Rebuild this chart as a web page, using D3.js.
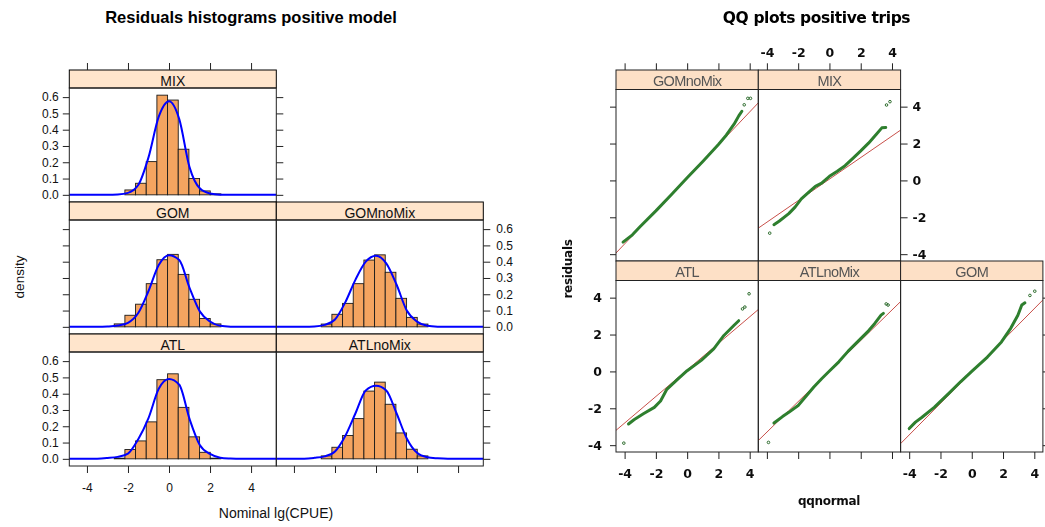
<!DOCTYPE html>
<html>
<head>
<meta charset="utf-8">
<script src="https://cdn.jsdelivr.net/npm/d3@7"></script>
<style>
  body { margin: 0; background: #fff; }
  svg { display: block; }
</style>
</head>
<body>
<svg id="chart" width="1045" height="527"></svg>
<script>
// ---- histogram data (left chart) ----
var histPanels = ["MIX", "GOM", "GOMnoMix", "ATL", "ATLnoMix"];
var binEdges = [-2.67, -2.15, -1.63, -1.11, -0.59, -0.07, 0.45, 0.97, 1.49, 2.01, 2.53];
var barsMIX      = [0,     0.030, 0.071, 0.204, 0.612, 0.582, 0.280, 0.100, 0.024, 0.006];
var barsGOM      = [0.018, 0.071, 0.139, 0.265, 0.412, 0.445, 0.322, 0.169, 0.051, 0.018];
var barsGOMnoMix = [0.017, 0.077, 0.144, 0.265, 0.410, 0.442, 0.335, 0.175, 0.058, 0.017];
var barsATL      = [0.004, 0.057, 0.110, 0.227, 0.486, 0.522, 0.316, 0.135, 0.040, 0.004];
var barsATLnoMix = [0.018, 0.071, 0.143, 0.247, 0.416, 0.471, 0.335, 0.159, 0.059, 0.018];

// density curve, read at these residual values
var densX        = [-5, -3.5, -3, -2.5, -2, -1.5, -1, -0.5, 0, 0.5, 1, 1.5, 2, 2.5, 3, 3.5, 5.3];
var densMIX      = [0, 0, 0, 0.002, 0.012, 0.06, 0.23, 0.48, 0.575, 0.465, 0.17, 0.04, 0.008, 0.001, 0, 0, 0];
var densGOM      = [0, 0, 0.002, 0.008, 0.025, 0.085, 0.22, 0.38, 0.44, 0.41, 0.24, 0.095, 0.033, 0.006, 0.001, 0, 0];
var densGOMnoMix = [0, 0, 0.002, 0.012, 0.045, 0.15, 0.29, 0.40, 0.437, 0.39, 0.26, 0.10, 0.032, 0.006, 0.001, 0, 0];
var densATL      = [0, 0.001, 0.005, 0.012, 0.032, 0.12, 0.25, 0.43, 0.49, 0.455, 0.245, 0.085, 0.03, 0.007, 0.002, 0, 0];
var densATLnoMix = [0, 0.001, 0.006, 0.015, 0.045, 0.14, 0.28, 0.42, 0.449, 0.42, 0.28, 0.125, 0.037, 0.01, 0.003, 0, 0];

var histBars = { MIX: barsMIX, GOM: barsGOM, GOMnoMix: barsGOMnoMix, ATL: barsATL, ATLnoMix: barsATLnoMix };
var histDens = { MIX: densMIX, GOM: densGOM, GOMnoMix: densGOMnoMix, ATL: densATL, ATLnoMix: densATLnoMix };
var histTicksX = [-4, -2, 0, 2, 4];
var histTicksY = [0, 0.1, 0.2, 0.3, 0.4, 0.5, 0.6];

// ---- QQ data (right chart) ----
var qqPanels = ["GOMnoMix", "MIX", "ATL", "ATLnoMix", "GOM"];
var qqX = {
    GOMnoMix: [-4.1, -3.5, -3, -2, -1, 0, 1, 2, 2.5, 3, 3.3, 3.5],
    MIX:      [-3.55, -3.2, -2.6, -2.2, -1.8, -1.3, -0.9, -0.5, 0, 0.5, 1.0, 1.6, 2.0, 2.5, 3.0, 3.35, 3.6],
    ATL:      [-3.75, -3.4, -2.8, -2.1, -1.7, -1.3, -0.6, 0, 0.9, 1.7, 2.35, 3.0, 3.3],
    ATLnoMix: [-3.55, -3.0, -2.6, -2.0, -1.5, -1.0, -0.5, 0, 0.6, 1.2, 2.0, 2.5, 2.9, 3.3, 3.45],
    GOM:      [-4.0, -3.6, -3.2, -2.4, -1.5, -0.7, 0, 1.0, 1.9, 2.5, 2.95, 3.2, 3.4]
};
var qqY = {
    GOMnoMix: [-3.35, -2.95, -2.5, -1.65, -0.76, 0.14, 1.03, 1.95, 2.45, 3.05, 3.5, 3.75],
    MIX:      [-2.4, -2.2, -1.8, -1.45, -1.0, -0.62, -0.32, -0.15, 0.22, 0.5, 0.8, 1.28, 1.6, 2.02, 2.5, 2.85, 2.87],
    ATL:      [-2.85, -2.62, -2.3, -1.95, -1.6, -0.97, -0.42, 0.04, 0.6, 1.22, 1.95, 2.5, 2.75],
    ATLnoMix: [-2.8, -2.45, -2.22, -1.85, -1.35, -0.85, -0.4, 0.02, 0.52, 1.1, 1.78, 2.2, 2.6, 3.05, 3.15],
    GOM:      [-3.1, -2.75, -2.5, -1.95, -1.22, -0.55, 0, 0.78, 1.6, 2.35, 3.05, 3.6, 3.72]
};
var qqOutliers = {
    GOMnoMix: [[3.65, 4.1], [3.88, 4.45], [4.05, 4.45]],
    MIX:      [[-3.82, -2.86], [3.65, 4.09], [3.87, 4.27]],
    ATL:      [[-4.05, -3.89], [3.54, 3.39], [3.69, 3.49], [3.96, 4.21]],
    ATLnoMix: [[-3.9, -3.85], [3.63, 3.66], [3.75, 3.6]],
    GOM:      [[3.72, 4.12], [4.03, 4.35]]
};
var qqIntercept = { GOMnoMix: 0.135, MIX: 0.07, ATL: 0.08, ATLnoMix: 0.02, GOM: -0.02 };
var qqSlope     = { GOMnoMix: 0.895, MIX: 0.584, ATL: 0.72, ATLnoMix: 0.828, GOM: 0.856 };
var qqTicks = [-4, -2, 0, 2, 4];

var svg = d3.select("#chart");
var font = "'Liberation Sans', Arial, sans-serif";
var heavy = "'DejaVu Sans', 'Liberation Sans', sans-serif";
var intLabel = function(d) { return String(d); };   // plain hyphen minus, like R

function styleAxis(g, size, weight, family) {
    g.select(".domain").remove();
    g.attr("font-family", family || font).attr("font-size", size).attr("font-weight", weight);
    g.selectAll(".tick line").attr("stroke", "#222");
    g.selectAll(".tick text").attr("fill", "#111");
}

// ================= left: residual histograms =================
var hx0 = 69.3, hcolW = 207, htop = 70, hstripH = 18, hplotH = 114;
var hx = d3.scaleLinear().domain([-4.86, 5.23]).range([0, hcolW]);
var hy = d3.scaleLinear().domain([-0.044, 0.656]).range([hplotH, 0]);
var histPos = { MIX: [0, 0], GOM: [0, 1], GOMnoMix: [1, 1], ATL: [0, 2], ATLnoMix: [1, 2] };

var left = svg.append("g");
left.append("text")
    .attr("x", 251).attr("y", 22.5)
    .attr("text-anchor", "middle")
    .attr("font-family", font).attr("font-size", 16.5).attr("font-weight", "bold")
    .attr("fill", "#000")
    .text("Residuals histograms positive model");

histPanels.forEach(function(name) {
    var col = histPos[name][0], row = histPos[name][1];
    var g = left.append("g")
        .attr("transform", "translate(" + (hx0 + col * hcolW) + "," + (htop + row * (hstripH + hplotH)) + ")");

    g.append("rect")
        .attr("width", hcolW).attr("height", hstripH)
        .attr("fill", "#ffe5cc").attr("stroke", "#000").attr("stroke-width", 1);
    g.append("text")
        .attr("x", hcolW / 2).attr("y", 15.5)
        .attr("text-anchor", "middle")
        .attr("font-family", font).attr("font-size", 14).attr("fill", "#111")
        .text(name);

    var p = g.append("g").attr("transform", "translate(0," + hstripH + ")");
    var clipId = "hclip-" + name;
    p.append("clipPath").attr("id", clipId)
        .append("rect").attr("width", hcolW).attr("height", hplotH);
    var inner = p.append("g").attr("clip-path", "url(#" + clipId + ")");

    var bars = histBars[name];
    inner.selectAll("rect.bar")
        .data(bars.map(function(h, i) { return { h: h, x0: binEdges[i], x1: binEdges[i + 1] }; })
                  .filter(function(d) { return d.h > 0; }))
        .enter().append("rect")
            .attr("class", "bar")
            .attr("x", function(d) { return hx(d.x0); })
            .attr("width", function(d) { return hx(d.x1) - hx(d.x0); })
            .attr("y", function(d) { return hy(d.h); })
            .attr("height", function(d) { return hy(0) - hy(d.h); })
            .attr("fill", "#f4a460").attr("stroke", "#1a1a1a").attr("stroke-width", 0.9);

    var line = d3.line()
        .x(function(d) { return hx(d[0]); })
        .y(function(d) { return hy(d[1]); })
        .curve(d3.curveMonotoneX);
    inner.append("path")
        .datum(densX.map(function(x, i) { return [x, histDens[name][i]]; }))
        .attr("d", line)
        .attr("fill", "none").attr("stroke", "#0000ff").attr("stroke-width", 2);

    p.append("rect")
        .attr("width", hcolW).attr("height", hplotH)
        .attr("fill", "none").attr("stroke", "#222").attr("stroke-width", 1);

    // axes, lattice style alternating
    if (row === 0) {
        p.append("g").attr("transform", "translate(0," + (-hstripH) + ")")
            .call(d3.axisTop(hx).tickValues(histTicksX).tickFormat("").tickSize(7))
            .call(styleAxis, 12, "normal");
    }
    if (row === 2) {
        p.append("g").attr("transform", "translate(0," + hplotH + ")")
            .call(d3.axisBottom(hx).tickValues(histTicksX).tickSize(7).tickPadding(10)
                  .tickFormat(col === 0 ? intLabel : ""))
            .call(styleAxis, 12, "normal");
    }
    if (col === 0) {
        p.append("g")
            .call(d3.axisLeft(hy).tickValues(histTicksY).tickSize(6.5).tickPadding(4)
                  .tickFormat(row === 1 ? "" : d3.format(".1f")))
            .call(styleAxis, 12, "normal");
    }
    var rightEdge = (name === "MIX" || col === 1);
    if (rightEdge) {
        p.append("g").attr("transform", "translate(" + hcolW + ",0)")
            .call(d3.axisRight(hy).tickValues(histTicksY).tickSize(7).tickPadding(6)
                  .tickFormat(row === 1 ? d3.format(".1f") : ""))
            .call(styleAxis, 12, "normal");
    }
});

left.append("text")
    .attr("transform", "translate(24,277) rotate(-90)")
    .attr("text-anchor", "middle")
    .attr("font-family", font).attr("font-size", 13.5).attr("fill", "#111")
    .text("density");
left.append("text")
    .attr("x", 276).attr("y", 518)
    .attr("text-anchor", "middle")
    .attr("font-family", font).attr("font-size", 14).attr("fill", "#111")
    .text("Nominal lg(CPUE)");

// ================= right: QQ plots =================
var qx0 = 616, qcolW = 142.3, qtop = 70, qstripH = 19.5, qplotH = 171.5;
var qx = d3.scaleLinear().domain([-4.55, 4.55]).range([0, qcolW]);
var qy = d3.scaleLinear().domain([-4.37, 4.93]).range([qplotH, 0]);
var qqPos = { GOMnoMix: [0, 0], MIX: [1, 0], ATL: [0, 1], ATLnoMix: [1, 1], GOM: [2, 1] };

var defs = svg.append("defs");
defs.append("filter").attr("id", "soft")
    .append("feGaussianBlur").attr("stdDeviation", 0.4);

var right = svg.append("g").attr("filter", "url(#soft)");
right.append("text")
    .attr("x", 816.5).attr("y", 23)
    .attr("text-anchor", "middle")
    .attr("font-family", heavy).attr("font-size", 15.5).attr("font-weight", "bold")
    .attr("letter-spacing", -0.4)
    .attr("fill", "#000")
    .text("QQ plots positive trips");

qqPanels.forEach(function(name) {
    var col = qqPos[name][0], row = qqPos[name][1];
    var g = right.append("g")
        .attr("transform", "translate(" + (qx0 + col * qcolW) + "," + (qtop + row * (qstripH + qplotH)) + ")");

    g.append("rect")
        .attr("width", qcolW).attr("height", qstripH)
        .attr("fill", "#fde0c6").attr("stroke", "#222").attr("stroke-width", 1);
    g.append("text")
        .attr("x", qcolW / 2).attr("y", 15.5)
        .attr("text-anchor", "middle")
        .attr("font-family", font).attr("font-size", 14.5).attr("fill", "#555")
        .attr("letter-spacing", -0.6)
        .text(name);

    var p = g.append("g").attr("transform", "translate(0," + qstripH + ")");
    var clipId = "qclip-" + name;
    p.append("clipPath").attr("id", clipId)
        .append("rect").attr("width", qcolW).attr("height", qplotH);
    var inner = p.append("g").attr("clip-path", "url(#" + clipId + ")");

    var a = qqIntercept[name], b = qqSlope[name];
    var ends = qx.domain();
    inner.append("line")
        .attr("x1", qx(ends[0])).attr("y1", qy(a + b * ends[0]))
        .attr("x2", qx(ends[1])).attr("y2", qy(a + b * ends[1]))
        .attr("stroke", "#c8504a").attr("stroke-width", 1);

    var pts = qqX[name].map(function(x, i) { return [x, qqY[name][i]]; });
    inner.append("path")
        .datum(pts)
        .attr("d", d3.line().x(function(d) { return qx(d[0]); }).y(function(d) { return qy(d[1]); }))
        .attr("fill", "none").attr("stroke", "#2f7f2f").attr("stroke-width", 3)
        .attr("stroke-linecap", "round").attr("stroke-linejoin", "round");

    inner.selectAll("circle")
        .data(qqOutliers[name])
        .enter().append("circle")
            .attr("cx", function(d) { return qx(d[0]); })
            .attr("cy", function(d) { return qy(d[1]); })
            .attr("r", 1.3)
            .attr("fill", "none").attr("stroke", "#2b6a2b").attr("stroke-width", 1);

    p.append("rect")
        .attr("width", qcolW).attr("height", qplotH)
        .attr("fill", "none").attr("stroke", "#222").attr("stroke-width", 1);

    if (row === 0) {
        p.append("g").attr("transform", "translate(0," + (-qstripH) + ")")
            .call(d3.axisTop(qx).tickValues(qqTicks).tickSize(6.7).tickPadding(6)
                  .tickFormat(col === 1 ? intLabel : ""))
            .call(styleAxis, 12.5, "bold", heavy);
    }
    if (row === 1) {
        p.append("g").attr("transform", "translate(0," + qplotH + ")")
            .call(d3.axisBottom(qx).tickValues(qqTicks).tickSize(7).tickPadding(10)
                  .tickFormat(col === 1 ? "" : intLabel))
            .call(styleAxis, 12.5, "bold", heavy);
    }
    if (col === 0) {
        p.append("g")
            .call(d3.axisLeft(qy).tickValues(qqTicks).tickSize(6).tickPadding(8)
                  .tickFormat(row === 0 ? "" : intLabel))
            .call(styleAxis, 12.5, "bold", heavy);
    }
    if (name === "MIX" || name === "GOM") {
        p.append("g").attr("transform", "translate(" + qcolW + ",0)")
            .call(d3.axisRight(qy).tickValues(qqTicks).tickSize(7).tickPadding(5)
                  .tickFormat(row === 0 ? intLabel : ""))
            .call(styleAxis, 12.5, "bold", heavy);
    }
});

right.append("text")
    .attr("transform", "translate(572,269) rotate(-90)")
    .attr("text-anchor", "middle")
    .attr("font-family", heavy).attr("font-size", 12).attr("font-weight", "bold")
    .attr("letter-spacing", -0.3)
    .attr("fill", "#111")
    .text("residuals");
right.append("text")
    .attr("x", 829).attr("y", 505)
    .attr("text-anchor", "middle")
    .attr("font-family", heavy).attr("font-size", 12).attr("font-weight", "bold")
    .attr("letter-spacing", -0.3)
    .attr("fill", "#111")
    .text("qqnormal");
</script>
</body>
</html>
